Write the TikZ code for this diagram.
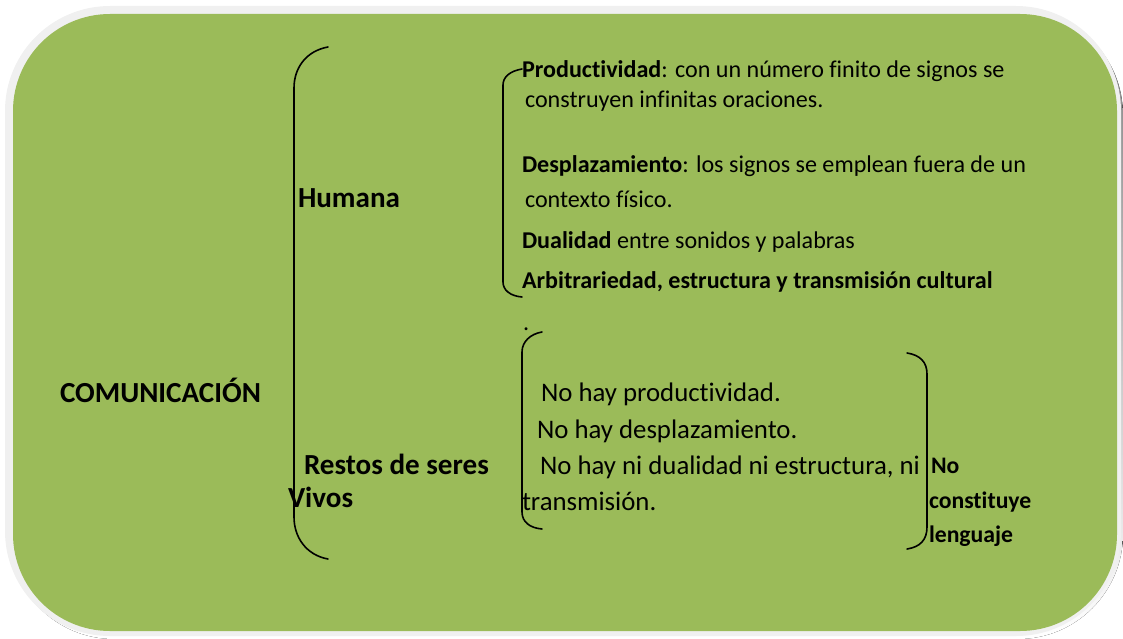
\documentclass[tikz,border=0pt]{standalone}
\usepackage{fontspec}
\setmainfont{Carlito}[Ligatures=NoCommon]
\definecolor{boxgreen}{HTML}{9BBB59}
\definecolor{rim}{HTML}{F0F0F0}
\definecolor{shade}{HTML}{A3AC8C}
\begin{document}
\begin{tikzpicture}[x=1pt,y=-1pt,
  txt/.style={anchor=base west,inner sep=0pt,outer sep=0pt},
  up/.style={txt,font=\fontsize{24.1}{28}\selectfont},
  low/.style={txt,font=\fontsize{26.8}{30}\selectfont},
  lab/.style={txt,font=\fontsize{29.1}{33}\selectfont\bfseries},
  sm/.style={txt,font=\fontsize{23.7}{27}\selectfont\bfseries},
  brace/.style={draw=black,line width=1.6pt,line cap=round}]
\useasboundingbox (0,0) rectangle (1123,639);
% background
\fill[shade,rounded corners=105pt] (9,10) rectangle (1123,639);
\fill[rim,rounded corners=105pt] (5,6) rectangle (1121,636);
\fill[boxgreen,rounded corners=97pt] (13,14) rectangle (1117,631);
% labels
\node[lab] (com) at (60,402) {COMUNICACIÓN};
\node[lab] (hum) at (298,207) {Humana};
\node[lab] (res) at (304,474) {Restos de seres};
\node[lab] (viv) at (288,507) {Vivos};
% upper list
\node[up] (p1) at (522,78) {\textbf{Productividad}: con un número finito de signos se};
\node[up] (p2) at (525,108) {construyen infinitas oraciones.};
\node[up] (d1) at (522,172) {\textbf{Desplazamiento}: los signos se emplean fuera de un};
\node[up] (d2) at (525,207) {contexto físico.};
\node[up] (du) at (522,248) {\textbf{Dualidad} entre sonidos y palabras};
\node[up] (ar) at (522,288) {\textbf{Arbitrariedad, estructura y transmisión cultural}};
\node[up] (dot) at (523,330) {.};
% lower list
\node[low] (n1) at (541,401) {No hay productividad.};
\node[low] (n2) at (537,438) {No hay desplazamiento.};
\node[low] (n3) at (540,474) {No hay ni dualidad ni estructura, ni};
\node[low] (n4) at (522,510) {transmisión.};
\node[sm] (nc1) at (931,473) {No};
\node[sm] (nc2) at (929,508) {constituye};
\node[sm] (nc3) at (929,542) {lenguaje};
% braces
\draw[brace] (328,47) .. controls (306,51) and (294,68) .. (294,88) -- (294,517) .. controls (294,537) and (306,555) .. (328,559);
\draw[brace] (522,69) .. controls (510,71) and (503,77) .. (503,85) -- (503,282) .. controls (503,290) and (510,296) .. (522,297);
\draw[brace] (542,332) .. controls (530,334) and (522,342) .. (522,352) -- (522,512) .. controls (522,522) and (530,528) .. (542,529);
\draw[brace] (907,353) .. controls (920,355) and (927,362) .. (927,374) -- (927,527) .. controls (927,540) and (920,547) .. (907,549);
\end{tikzpicture}
\end{document}
